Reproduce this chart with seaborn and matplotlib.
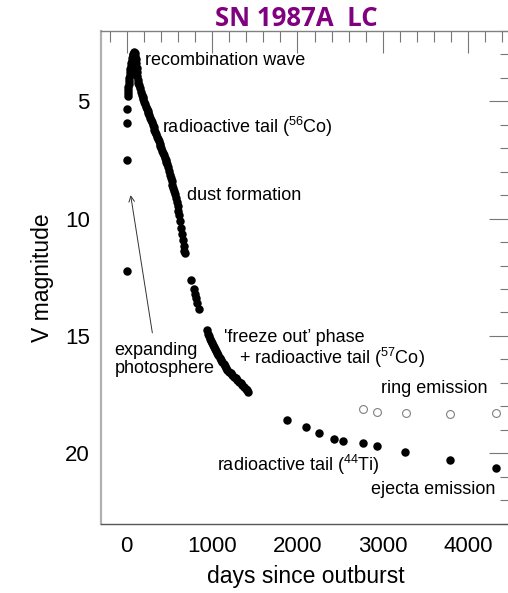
import numpy as np
import pandas as pd
import matplotlib
matplotlib.use("Agg")
import matplotlib.pyplot as plt
import seaborn as sns
from matplotlib.ticker import MultipleLocator

# --- V-band photometry of SN 1987A (days since outburst, V magnitude) ---
first_days = [0, 0, 0, 0]
first_mag = [5.31, 5.92, 7.48, 12.23]

rise_days = [12, 14, 17, 20, 23, 27, 31, 35, 40, 45, 50, 55, 60, 65, 70, 76, 82, 88]
rise_mag = [4.79, 4.66, 4.53, 4.40, 4.27, 4.14, 4.01, 3.89, 3.76, 3.63, 3.50, 3.38,
            3.26, 3.14, 3.04, 2.96, 2.92, 2.91]

drop_days = [94, 102, 110, 115, 119, 123, 127, 132, 138, 146]
drop_mag = [2.95, 3.05, 3.20, 3.38, 3.56, 3.74, 3.92, 4.08, 4.20, 4.32]

tail_days = [155, 165, 176, 186, 196, 206, 216, 226, 236, 246, 256, 266, 276, 286,
             296, 306, 316, 326, 336, 346, 356, 366, 376, 386, 396, 406, 416, 426,
             436, 446, 456, 466, 476, 486, 496, 506, 516, 526, 536, 546, 556, 566,
             576, 586, 596, 606, 616, 626, 636, 646, 656, 666, 676, 681]
tail_mag = [4.45, 4.58, 4.72, 4.82, 4.92, 5.02, 5.12, 5.22, 5.31, 5.41, 5.50, 5.60,
            5.70, 5.80, 5.90, 6.01, 6.11, 6.21, 6.31, 6.41, 6.50, 6.60, 6.70, 6.80,
            6.90, 7.00, 7.10, 7.20, 7.30, 7.40, 7.50, 7.58, 7.66, 7.80, 7.95, 8.12,
            8.27, 8.40, 8.55, 8.70, 8.84, 8.97, 9.10, 9.30, 9.48, 9.66, 9.85, 10.10,
            10.38, 10.65, 10.90, 11.18, 11.38, 11.45]

dust_days = [757, 790, 800, 812, 825, 847]
dust_mag = [12.63, 13.00, 13.20, 13.40, 13.60, 13.85]

freeze_days = [937, 950, 962, 975, 988, 1000, 1012, 1025, 1038, 1050, 1062, 1075,
               1090, 1105, 1120, 1135, 1150, 1165, 1180, 1198, 1218, 1238, 1257,
               1276, 1296, 1315, 1335, 1355, 1374, 1392, 1405, 1425]
freeze_mag = [14.76, 14.90, 15.02, 15.12, 15.21, 15.30, 15.39, 15.48, 15.57, 15.66,
              15.75, 15.83, 15.93, 16.02, 16.11, 16.20, 16.29, 16.38, 16.46, 16.53,
              16.60, 16.67, 16.74, 16.81, 16.89, 16.96, 17.03, 17.10, 17.17, 17.26,
              17.32, 17.39]

late_days = [1874, 2096, 2256, 2427, 2537, 2771, 2927, 3262, 3782, 4329]
late_mag = [18.59, 18.88, 19.15, 19.40, 19.50, 19.57, 19.68, 19.96, 20.31, 20.65]

ring_days = [2771, 2927, 3267, 3782, 4329]
ring_mag = [18.12, 18.23, 18.30, 18.31, 18.30]

x_major = [0, 1000, 2000, 3000, 4000]
y_major = [5, 10, 15, 20]

ejecta = pd.DataFrame({
    "days": first_days + rise_days + drop_days + tail_days + dust_days
            + freeze_days + late_days,
    "V": first_mag + rise_mag + drop_mag + tail_mag + dust_mag
         + freeze_mag + late_mag,
})
ring = pd.DataFrame({"days": ring_days, "V": ring_mag})

# --- style ---
sns.set_style("white")
plt.rcParams["font.family"] = ["Liberation Sans", "DejaVu Sans"]
plt.rcParams["text.color"] = "black"
plt.rcParams["axes.labelcolor"] = "black"
plt.rcParams["mathtext.fontset"] = "custom"
plt.rcParams["mathtext.rm"] = "Liberation Sans"
plt.rcParams["mathtext.default"] = "regular"

W, H = 508, 593
fig = plt.figure(figsize=(W / 100, H / 100), dpi=100)
ax = fig.add_axes([101 / W, (H - 523.5) / H, 410 / W, 492.5 / H])

sns.scatterplot(data=ejecta, x="days", y="V", ax=ax, color="black", s=37,
                linewidth=0, legend=False, zorder=3)
sns.scatterplot(data=ring, x="days", y="V", ax=ax, facecolor="white",
                edgecolor="#808080", s=32, linewidth=0.8, legend=False, zorder=3)

ax.set_xlim(-300, 4500)
ax.set_ylim(23, 2)

ax.set_xticks(x_major)
ax.set_yticks(y_major)
ax.xaxis.set_minor_locator(MultipleLocator(200))
ax.yaxis.set_minor_locator(MultipleLocator(1))
tick_col = "#777777"
ax.tick_params(which="both", direction="in", top=True, right=True,
               color=tick_col, width=0.8, labelsize=16, labelcolor="black")
ax.tick_params(which="major", length=16)
ax.tick_params(which="minor", length=8)
ax.tick_params(axis="x", which="major", pad=9)
ax.tick_params(axis="y", which="major", pad=8)

ax.spines["left"].set_color("#b0b0b0")
ax.spines["left"].set_linewidth(1.6)
ax.spines["bottom"].set_color("#555555")
ax.spines["bottom"].set_linewidth(1.0)
ax.spines["top"].set_color("#808080")
ax.spines["top"].set_linewidth(1.0)
ax.spines["right"].set_visible(False)

ax.set_xlabel("days since outburst", fontsize=16.5, labelpad=6)
ax.set_ylabel("V magnitude", fontsize=16.5, labelpad=8)

fig.text(296 / W, 1 - 18 / H, "SN 1987A  LC", color="#800080", fontsize=18.5,
         fontweight="bold", family=["Open Sans", "DejaVu Sans"],
         ha="center", va="center")

# --- phase annotations ---
fs = 13
ax.text(211, 3.25, "recombination wave", fontsize=fs, va="center")
ax.text(418, 6.07, r"radioactive tail ($^{56}$Co)", fontsize=fs, va="center")
ax.text(711, 9.0, "dust formation", fontsize=fs, va="center")
ax.text(1139, 15.25, "'freeze out\u2019 phase", fontsize=fs, va="baseline")
ax.text(1315, 15.96, r"+ radioactive tail ($^{57}$Co)", fontsize=fs, va="center")
ax.text(-141, 16.0, "expanding\nphotosphere", fontsize=fs, va="center",
        linespacing=1.05)
ax.text(2974, 17.24, "ring emission", fontsize=fs, va="center")
ax.text(1054, 20.51, r"radioactive tail ($^{44}$Ti)", fontsize=fs, va="center")
ax.text(2866, 21.54, "ejecta emission", fontsize=fs, va="center")

ax.annotate("", xy=(47, 9.0), xytext=(301, 14.87),
            arrowprops=dict(arrowstyle="->", color="#333333", lw=0.7,
                            shrinkA=0, shrinkB=0, mutation_scale=10))

fig.savefig("out.png", dpi=100)
